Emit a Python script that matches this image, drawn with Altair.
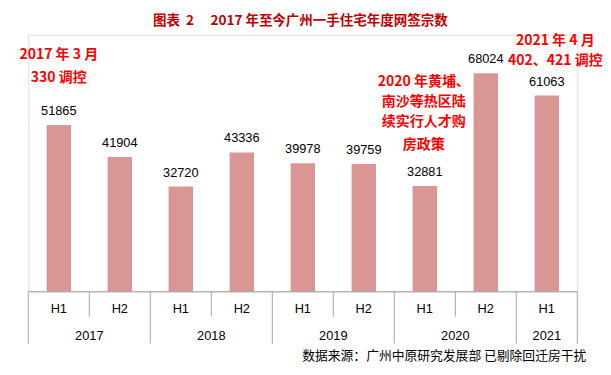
import altair as alt
import pandas as pd

# ---- data ----
halves = ["H1", "H2", "H1", "H2", "H1", "H2", "H1", "H2", "H1"]
years = ["2017", "2017", "2018", "2018", "2019", "2019", "2020", "2020", "2021"]
values = [51865, 41904, 32720, 43336, 39978, 39759, 32881, 68024, 61063]

title_text = "图表\u00a0\u00a02\u3000\u00a02017\u00a0年至今广州一手住宅年度网签宗数"
source_text = "数据来源：广州中原研究发展部 已剔除回迁房干扰"
note_2017 = ["2017 年 3 月", "330 调控"]
note_2020 = ["2020 年黄埔、", "南沙等热区陆", "续实行人才购", "房政策"]
note_2021 = ["2021 年 4 月", "402、421 调控"]

df = pd.DataFrame({"half": halves, "year": years, "value": values})
df["idx"] = range(len(df))

# divider positions derived from the categories
inner = [i for i, h in enumerate(halves) if i > 0 and years[i] == years[i - 1]]
outer = [0] + [i for i in range(1, len(years)) if years[i] != years[i - 1]] + [len(years)]
div_inner = pd.DataFrame({"b": inner})
div_outer = pd.DataFrame({"b": outer})

W, H = 549, 257
xs = alt.Scale(domain=[0, len(halves)], nice=False, zero=False)
ys = alt.Scale(domain=[0, 80000], nice=False)
LINE = "#a6a6a6"
CJK = "Noto Sans CJK SC"
NUM = "Liberation Sans"

base = alt.Chart(df).transform_calculate(
    x0="datum.idx + 0.3", x1="datum.idx + 0.7", xc="datum.idx + 0.5"
)

bars = base.mark_bar(color="#D99694").encode(
    x=alt.X("x0:Q", scale=xs, axis=None),
    x2="x1:Q",
    y=alt.Y("value:Q", scale=ys, axis=None),
    y2=alt.datum(0),
)

labels = base.mark_text(font=NUM, fontSize=12.8, color="#000000", baseline="middle", dy=-14).encode(
    x=alt.X("xc:Q", scale=xs),
    y=alt.Y("value:Q", scale=ys),
    text=alt.Text("value:Q", format="d"),
)

half_lbl = base.mark_text(font=NUM, fontSize=12.8, color="#000000", baseline="middle").encode(
    x=alt.X("xc:Q", scale=xs),
    y=alt.value(274),
    text="half:N",
)

year_lbl = base.transform_aggregate(xm="mean(xc)", groupby=["year"]).mark_text(
    font=NUM, fontSize=12.8, color="#000000", baseline="middle"
).encode(
    x=alt.X("xm:Q", scale=xs),
    y=alt.value(301),
    text="year:N",
)

domain_line = alt.Chart(pd.DataFrame({"a": [0], "b": [len(halves)]})).mark_rule(color=LINE, strokeWidth=1).encode(
    x=alt.X("a:Q", scale=xs), x2="b:Q", y=alt.value(H)
)
rules_in = alt.Chart(div_inner).mark_rule(color=LINE, strokeWidth=1).encode(
    x=alt.X("b:Q", scale=xs), y=alt.value(H), y2=alt.value(H + 25)
)
rules_out = alt.Chart(div_outer).mark_rule(color=LINE, strokeWidth=1).encode(
    x=alt.X("b:Q", scale=xs), y=alt.value(H), y2=alt.value(H + 52)
)

one = pd.DataFrame({"k": [0]})


def txt(s, x, y, size, color, bold, align="center"):
    return alt.Chart(one).mark_text(
        text=s, font=CJK, fontSize=size, color=color,
        fontWeight="bold" if bold else "normal", align=align, baseline="middle"
    ).encode(x=alt.value(x), y=alt.value(y))


notes = [txt(title_text, 272, -13.5, 13.5, "#C00000", True),
         txt(source_text, 558, 321, 12.8, "#000000", False, align="right")]
for s, y in zip(note_2017, [20.5, 43.5]):
    notes.append(txt(s, 30.5, y, 14, "#FF0000", True))
for s, y in zip(note_2020, [47, 67, 87, 110]):
    notes.append(txt(s, 395.5, y, 14, "#FF0000", True))
for s, y in zip(note_2021, [6.5, 26.5]):
    notes.append(txt(s, 527, y, 14, "#FF0000", True))

chart = alt.layer(
    bars, labels, domain_line, rules_in, rules_out, half_lbl, year_lbl, *notes
).properties(
    width=W, height=H,
    autosize=alt.AutoSizeParams(type="none"),
    padding={"left": 20.3, "top": 26.7, "right": 25, "bottom": 75},
).configure_view(stroke=None).configure(background="#ffffff")

chart.save("out.html", embed_options={"renderer": "svg", "actions": False})
